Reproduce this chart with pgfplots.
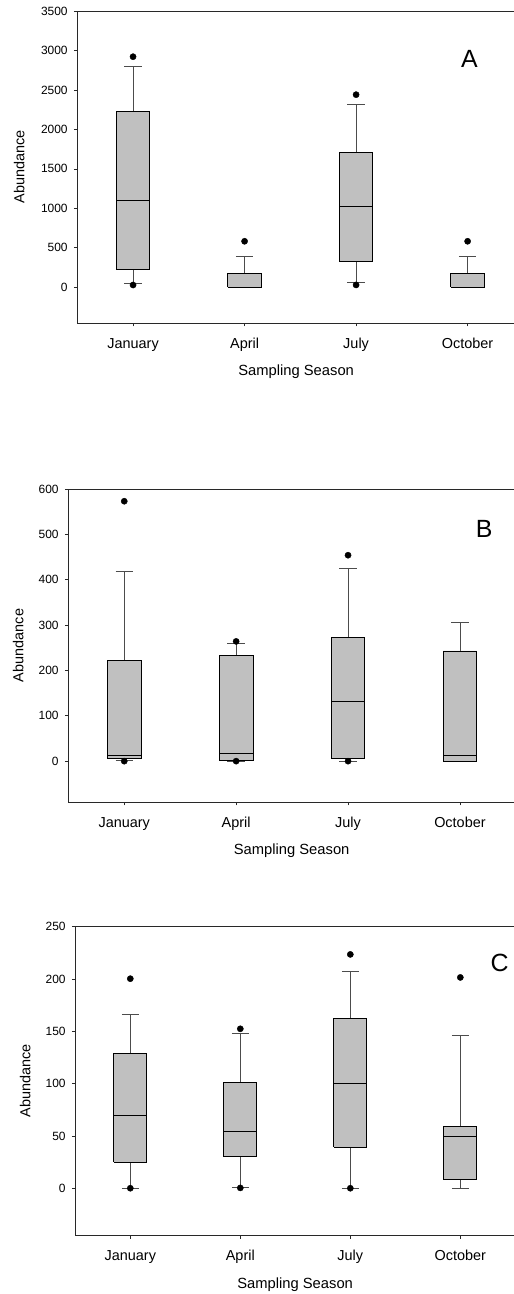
\documentclass[border=0pt]{standalone}
\usepackage{pgfplots}
\pgfplotsset{compat=1.18}
\usepackage{fontspec}
\setmainfont{Liberation Sans}
\definecolor{boxgray}{RGB}{192,192,192}
\definecolor{axgray}{RGB}{40,40,40}
\pgfplotsset{
  panel/.style={
    scale only axis,
    anchor=south west,
    xmin=0.5,
    xtick={1,2,3,4},
    xticklabels={January,April,July,October},
    tick align=outside,
    xtick pos=bottom,
    ytick pos=left,
    major tick length=3.5bp,
    tick style={axgray, line width=0.7bp},
    axis line style={axgray, line width=0.8bp},
    scaled y ticks=false,
    /pgf/number format/1000 sep={},
    /pgf/number format/assume math mode=true,
    yticklabel style={font=\fontsize{12}{12}\selectfont, inner sep=1.5bp, xshift=-4.5bp},
    xticklabel style={font=\fontsize{14.5}{15}\selectfont, anchor=base, yshift=-22bp},
    xlabel={Sampling Season},
    ylabel={Abundance},
    every axis x label/.style={at={(axis description cs:0.5,0)}, anchor=center, yshift=-49bp, font=\fontsize{14.8}{15}\selectfont},
    clip=false,
  },
  whisk/.style={draw=black!70, line width=0.8bp, mark=none},
  boxs/.style={draw=black, fill=boxgray, line width=0.8bp, mark=none},
  med/.style={draw=black, line width=0.8bp, mark=none},
  outl/.style={only marks, mark=*, mark size=3.1bp, mark options={fill=black, draw=black}},
}
% #1 = position-1, #2 = position, #3 lower whisker, #4 lower quartile,
% #5 median, #6 upper quartile, #7 upper whisker
\newcommand{\bxp}[7]{%
  \addplot[whisk] coordinates {(#2,#3) (#2,#4)};
  \addplot[whisk] coordinates {(#2,#6) (#2,#7)};
  \addplot[whisk] coordinates {(#1.9225,#3) (#2.0775,#3)};
  \addplot[whisk] coordinates {(#1.9225,#7) (#2.0775,#7)};
  \addplot[boxs] coordinates {(#1.85,#4) (#2.15,#4) (#2.15,#6) (#1.85,#6) (#1.85,#4)};
  \addplot[med] coordinates {(#1.85,#5) (#2.15,#5)};
}
\begin{document}
\begin{tikzpicture}
\useasboundingbox (0,0) rectangle (514bp,1294bp);
% ---------------- Panel A
\begin{axis}[panel,
  at={(77.3bp,971bp)}, width=437.7bp, height=312bp,
  xmax=4.425, ymin=-452, ymax=3500,
  ytick={0,500,1000,1500,2000,2500,3000,3500},
  every axis y label/.style={at={(axis description cs:0,0.5)}, xshift=-58bp, rotate=90, anchor=center, font=\fontsize{14.5}{15}\selectfont},
]
\bxp{0}{1}{50}{232}{1106}{2229}{2794}
\bxp{1}{2}{0}{0}{5}{172}{388}
\bxp{2}{3}{58}{329}{1026}{1705}{2318}
\bxp{3}{4}{0}{0}{5}{172}{388}
\addplot[outl] coordinates {(1,2921) (1,29) (2,583) (3,2440) (3,30) (4,583)};
\node[font=\fontsize{25}{25}\selectfont] at (rel axis cs:0.896,0.846) {A};
\end{axis}
% ---------------- Panel B
\begin{axis}[panel,
  at={(68.3bp,492bp)}, width=446.7bp, height=313bp,
  xmax=4.492, ymin=-90, ymax=600,
  ytick={0,100,200,300,400,500,600},
  every axis y label/.style={at={(axis description cs:0,0.5)}, xshift=-50bp, rotate=90, anchor=center, font=\fontsize{14.5}{15}\selectfont},
]
\bxp{0}{1}{1.5}{7}{13}{223}{418}
\bxp{1}{2}{0}{1.5}{18}{233}{260}
\bxp{2}{3}{0}{6}{131}{273}{424}
\bxp{3}{4}{0}{0}{12}{243}{305}
\addplot[outl] coordinates {(1,573) (1,0) (2,264) (2,0) (3,454) (3,0)};
\node[font=\fontsize{25}{25}\selectfont] at (rel axis cs:0.931,0.872) {B};
\end{axis}
% ---------------- Panel C
\begin{axis}[panel,
  at={(75.3bp,58.7bp)}, width=439.7bp, height=308.6bp,
  xmax=4.497, ymin=-45, ymax=250,
  ytick={0,50,100,150,200,250},
  every axis y label/.style={at={(axis description cs:0,0.5)}, xshift=-50bp, rotate=90, anchor=center, font=\fontsize{14.5}{15}\selectfont},
]
\bxp{0}{1}{0}{24.9}{69.8}{128.5}{165.8}
\bxp{1}{2}{1}{30.3}{53.9}{101.4}{148}
\bxp{2}{3}{0}{39.5}{100}{162}{207}
\bxp{3}{4}{0}{8.3}{49.7}{58.7}{145.7}
\addplot[outl] coordinates {(1,200.3) (1,0) (2,152.4) (2,0.3) (3,223.5) (3,0) (4,201.5)};
\node[font=\fontsize{25}{25}\selectfont] at (rel axis cs:0.965,0.882) {C};
\end{axis}
\end{tikzpicture}
\end{document}
